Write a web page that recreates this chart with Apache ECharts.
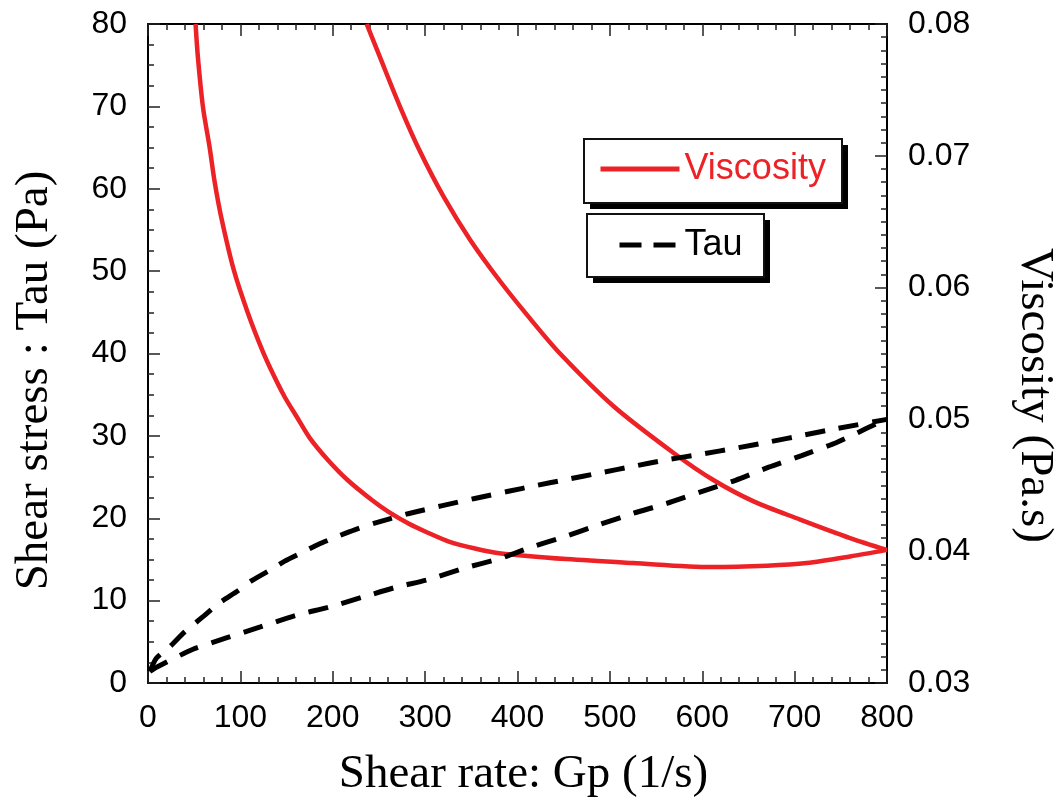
<!DOCTYPE html>
<html>
<head>
<meta charset="utf-8">
<title>Shear stress / Viscosity vs shear rate</title>
<script src="https://cdn.jsdelivr.net/npm/echarts@6/dist/echarts.min.js"></script>
<style>
  html, body { margin: 0; padding: 0; background: #fff; }
  #chart { width: 1060px; height: 803px; }
</style>
</head>
<body>
<div id="chart"></div>
<script>
// axis ticks
const shearTicks = [0, 100, 200, 300, 400, 500, 600, 700, 800];
const tauTicks = [0, 10, 20, 30, 40, 50, 60, 70, 80];
const viscTicks = [0.03, 0.04, 0.05, 0.06, 0.07, 0.08];

// viscosity, steep branch (Pa.s)
const viscAShear = [51.5, 54, 59.5, 66.8, 72.2, 79.4, 93, 108, 124, 135, 148, 161, 175, 195, 216, 242, 260, 282, 303, 325, 354, 380, 453, 525, 610, 670, 713, 760, 800];
const viscAValues = [0.0800, 0.0775, 0.0737, 0.0706, 0.0680, 0.0653, 0.0613, 0.0581, 0.0552, 0.0535, 0.0517, 0.0502, 0.0486, 0.0469, 0.0454, 0.0439, 0.0430, 0.0421, 0.0414, 0.04075, 0.0402, 0.03985, 0.0394, 0.0391, 0.0388, 0.0389, 0.0391, 0.0396, 0.0401];

// viscosity, second branch (Pa.s)
const viscBShear = [236.7, 251, 273, 294, 320, 349, 381, 413, 446, 504, 572, 612, 655, 706, 760, 800];
const viscBValues = [0.0800, 0.0775, 0.0737, 0.0704, 0.0669, 0.0636, 0.0605, 0.0577, 0.0550, 0.0510, 0.0473, 0.0454, 0.0438, 0.0424, 0.0410, 0.0401];

// shear stress, upper branch (Pa)
const tauUpShear = [2, 9, 23.5, 39.7, 59.5, 75.8, 97.4, 111.9, 133.5, 148, 169.6, 185.8, 207.5, 223.7, 245.4, 279.6, 317.5, 353.7, 391.5, 417, 453, 489, 525.4, 561.5, 600, 636, 674, 710, 746, 800];
const tauUpValues = [1.4, 3.0, 4.4, 6.2, 8.05, 9.6, 11.2, 12.4, 13.8, 14.8, 16.0, 16.9, 17.9, 18.6, 19.4, 20.5, 21.5, 22.4, 23.3, 23.9, 24.7, 25.5, 26.3, 27.1, 27.8, 28.5, 29.3, 30.1, 30.9, 32.0];

// shear stress, lower branch (Pa)
const tauDownShear = [2, 10.8, 48.7, 85.5, 121.6, 159.5, 195.6, 231.7, 267.8, 304.9, 341, 380.7, 415.3, 452, 488, 525.4, 561.5, 598.3, 636, 672, 707.6, 745.5, 783.4, 800];
const tauDownValues = [1.4, 2.0, 4.1, 5.5, 6.8, 8.2, 9.2, 10.4, 11.6, 12.6, 13.9, 15.1, 16.5, 17.8, 19.2, 20.6, 21.8, 23.2, 24.6, 26.2, 27.6, 29.2, 31.2, 32.0];

const RED = "#ec2227";
const zip = (xs, ys) => xs.map((x, i) => [x, ys[i]]);

const labelFont = {
  color: "#000",
  fontFamily: "Liberation Sans, Arial, sans-serif",
  fontSize: 32
};
const nameFont = {
  color: "#000",
  fontFamily: "Liberation Serif, Times New Roman, serif",
  fontSize: 47
};
const axisLine = { show: true, onZero: false, lineStyle: { color: "#000", width: 2 } };
const tick = { show: true, inside: true, length: 12, lineStyle: { color: "#222", width: 1.5 } };
const minor = (n) => ({ show: true, splitNumber: n, length: 6, lineStyle: { color: "#222", width: 1.5 } });

const chart = echarts.init(document.getElementById("chart"));

chart.setOption({
  animation: false,
  backgroundColor: "#fff",
  grid: { left: 148, right: 173, top: 24, bottom: 120, outerBoundsMode: "none", containLabel: false },
  graphic: [
    { type: "rect", z: 10, shape: { x: 590, y: 145, width: 258, height: 64 }, style: { fill: "#000" } },
    { type: "rect", z: 11, shape: { x: 584, y: 139, width: 258, height: 64 }, style: { fill: "#fff", stroke: "#111", lineWidth: 2 } },
    { type: "rect", z: 10, shape: { x: 593, y: 220, width: 177, height: 63 }, style: { fill: "#000" } },
    { type: "rect", z: 11, shape: { x: 587, y: 214, width: 177, height: 63 }, style: { fill: "#fff", stroke: "#111", lineWidth: 2 } }
  ],
  legend: [
    {
      z: 20,
      left: 598,
      top: 151,
      padding: 0,
      itemWidth: 79,
      itemHeight: 14,
      itemStyle: { opacity: 0 },
      lineStyle: { width: 5 },
      textStyle: { fontFamily: "Liberation Sans, Arial, sans-serif", fontSize: 36, color: RED },
      data: ["Viscosity"]
    },
    {
      z: 20,
      left: 617,
      top: 227,
      padding: 0,
      itemWidth: 60,
      itemHeight: 14,
      itemStyle: { opacity: 0 },
      lineStyle: { width: 5, type: [22, 12] },
      textStyle: { fontFamily: "Liberation Sans, Arial, sans-serif", fontSize: 36, color: "#000" },
      data: ["Tau"]
    }
  ],
  xAxis: [
    {
      type: "value",
      position: "bottom",
      min: shearTicks[0],
      max: shearTicks[shearTicks.length - 1],
      interval: 100,
      name: "Shear rate: Gp (1/s)",
      nameLocation: "middle",
      nameGap: 68,
      nameTextStyle: Object.assign({ padding: [0, 0, 0, 12] }, nameFont),
      axisLine: axisLine,
      axisTick: tick,
      minorTick: minor(5),
      splitLine: { show: false },
      axisLabel: Object.assign({ margin: 19 }, labelFont)
    },
    {
      type: "value",
      position: "top",
      min: shearTicks[0],
      max: shearTicks[shearTicks.length - 1],
      interval: 100,
      axisLine: axisLine,
      axisTick: tick,
      minorTick: minor(5),
      splitLine: { show: false },
      axisLabel: { show: false }
    }
  ],
  yAxis: [
    {
      type: "value",
      position: "left",
      min: tauTicks[0],
      max: tauTicks[tauTicks.length - 1],
      interval: 10,
      name: "Shear stress : Tau (Pa)",
      nameLocation: "middle",
      nameRotate: 90,
      nameGap: 90,
      nameTextStyle: Object.assign({ padding: [0, 54, 0, 0] }, nameFont),
      axisLine: axisLine,
      axisTick: tick,
      minorTick: minor(4),
      splitLine: { show: false },
      axisLabel: Object.assign({ margin: 21 }, labelFont)
    },
    {
      type: "value",
      position: "right",
      min: viscTicks[0],
      max: viscTicks[viscTicks.length - 1],
      interval: 0.01,
      name: "Viscosity (Pa.s)",
      nameLocation: "middle",
      nameRotate: -90,
      nameGap: 124,
      nameTextStyle: Object.assign({ padding: [0, 0, 0, 84] }, nameFont),
      axisLine: axisLine,
      axisTick: tick,
      minorTick: minor(10),
      splitLine: { show: false },
      axisLabel: Object.assign({ margin: 21, formatter: (v) => v.toFixed(2) }, labelFont)
    }
  ],
  series: [
    {
      name: "Viscosity",
      type: "line",
      yAxisIndex: 1,
      symbol: "none",
      smooth: 0.3,
      lineStyle: { color: RED, width: 4.5 },
      itemStyle: { color: RED },
      data: zip(viscAShear, viscAValues)
    },
    {
      name: "Viscosity",
      type: "line",
      yAxisIndex: 1,
      symbol: "none",
      smooth: 0.3,
      lineStyle: { color: RED, width: 4.5 },
      itemStyle: { color: RED },
      data: zip(viscBShear, viscBValues)
    },
    {
      name: "Tau",
      type: "line",
      yAxisIndex: 0,
      symbol: "none",
      smooth: 0.2,
      lineStyle: { color: "#000", width: 5, type: [20, 14] },
      itemStyle: { color: "#000" },
      data: zip(tauUpShear, tauUpValues)
    },
    {
      name: "Tau",
      type: "line",
      yAxisIndex: 0,
      symbol: "none",
      smooth: 0.2,
      lineStyle: { color: "#000", width: 5, type: [20, 14] },
      itemStyle: { color: "#000" },
      data: zip(tauDownShear, tauDownValues)
    }
  ]
});
</script>
</body>
</html>
